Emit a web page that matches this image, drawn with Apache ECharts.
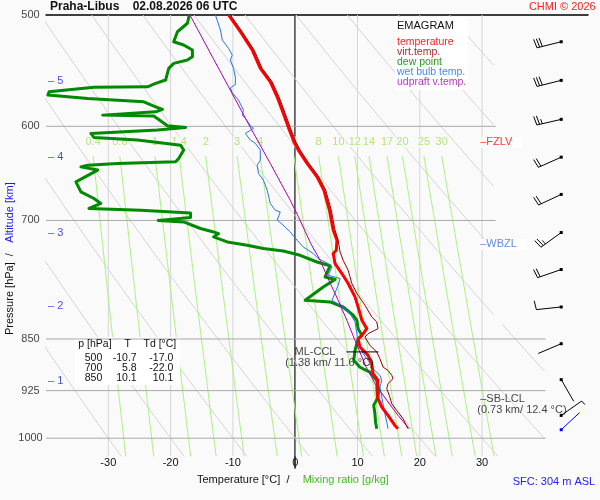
<!DOCTYPE html>
<html>
<head>
<meta charset="utf-8">
<title>Emagram Praha-Libus</title>
<script src="https://cdn.jsdelivr.net/npm/echarts@6/dist/echarts.min.js"></script>
<style>
  html, body { margin: 0; padding: 0; background: #fafafa; }
  #chart { width: 600px; height: 500px; }
</style>
</head>
<body>
<div id="chart"></div>
<script>
// ---- sounding data (p in hPa, T in °C) ----
var station = 'Praha-Libus';
var stamp = '02.08.2026 06 UTC';
var sfcHeight = 304;

var pressureTicks = [500, 600, 700, 850, 925, 1000];
var tempTicks = [-30, -20, -10, 0, 10, 20, 30];
var altitudeKm = [1, 2, 3, 4, 5];
var altitudeP = [910, 805, 714, 631, 557];
var mixingRatios = [0.4, 0.6, 1, 1.4, 2, 3, 4, 6, 8, 10, 12, 14, 17, 20, 25, 30];
var thetaLevels = [-30, -20, -10, 0, 10, 20, 30, 40, 50, 60, 70, 80, 90];

var tempP = [500, 513.9, 529.5, 545.7, 557.8, 571.7, 587.4, 601, 615.4, 623.8, 637.6, 651.8, 666.1, 688.4, 700,
  711.3, 723.1, 735, 739, 751.2, 763.6, 776.2, 793.4, 806.6, 824.4, 835.7, 845, 850, 861.3, 873.1, 885, 899.6,
  909.7, 919.7, 934.9, 950.4, 963.4, 979.3, 984.6];
var tempT = [-10.7, -8.8, -6.9, -5.6, -4.0, -2.9, -1.9, -1.1, -0.2, 0.5, 1.9, 3.5, 4.6, 5.5, 5.8,
  6.1, 6.7, 6.6, 6.1, 6.4, 7.5, 8.5, 9.6, 10.1, 10.7, 11.5, 10.7, 10.1, 10.4, 11.7, 12.3, 12.5,
  13.3, 13.1, 13.2, 13.9, 14.9, 16.0, 16.5];

var virtP = [500, 513.9, 529.5, 545.7, 557.8, 571.7, 587.4, 601, 615.4, 623.8, 637.6, 651.8, 666.1, 688.4, 700,
  711.3, 723.1, 737.1, 747.2, 759.5, 776.2, 789, 804.3, 820, 826.7, 835.7, 842.7, 847.4, 859, 868.4, 877.9,
  890, 894.9, 902.2, 907.1, 914.5, 922, 934.9, 945.1, 955.5, 968.5, 984.6];
var virtT = [-10.4, -8.5, -6.6, -5.3, -3.7, -2.6, -1.6, -0.8, 0.1, 0.8, 2.2, 3.8, 4.9, 5.8, 6.1,
  6.4, 6.9, 7.2, 7.7, 8.5, 9.1, 9.9, 11.2, 12.3, 13.1, 13.3, 11.7, 11.2, 12.0, 13.1, 13.6,
  14.1, 14.9, 15.5, 15.7, 14.9, 14.7, 15.2, 15.5, 16.3, 17.3, 18.1];

var dewP = [500, 506.8, 513.9, 522.4, 525.2, 529.5, 535.4, 538.3, 541.2, 545.7, 556.2, 559.3, 562.4, 562.9, 567,
  570, 573.2, 576.4, 581.1, 583.6, 585.9, 589.1, 590, 599.4, 601.1, 602, 603.7, 607, 611, 613.7, 618.8, 623.8,
  632.4, 635.9, 637.6, 639.4, 641.2, 644.6, 657.2, 668, 675.3, 680.8, 686.4, 688.4, 691.4, 696.6, 700, 701.7,
  709.3, 713.3, 715.2, 719.2, 725.1, 729, 733, 735.9, 741.1, 749.3, 754, 767.9, 771, 780.6, 797.8, 800, 806.6,
  817.6, 824.4, 835.7, 845, 850, 866, 880.3, 890.3, 897.5, 909.7, 921.6, 934.9, 947.6, 960.8, 974.1, 984.6];
var dewT = [-17.0, -17.3, -18.9, -19.5, -17.9, -16.5, -16.5, -17.3, -19.5, -20.3, -20.8, -22.4, -23.7, -32.3, -39.5,
  -39.7, -33.3, -24.3, -22.4, -21.3, -22.4, -30.9, -22.7, -20.5, -17.6, -17.9, -22.1, -32.8, -32.3, -25.3, -18.4, -17.9,
  -18.7, -19.2, -28.5, -33.3, -34.4, -31.7, -35.2, -34.4, -32.3, -31.2, -33.1, -24.8, -16.8, -16.8, -22.0, -17.9,
  -15.2, -13.1, -12.3, -13.1, -10.9, -7.7, -5.1, -1.9, 0.8, 3.5, 5.6, 4.8, 6.4, 4.5, 1.6, 5.6, 7.7,
  9.3, 9.9, 10.1, 10.7, 10.1, 9.6, 9.4, 10.4, 12.0, 13.1, 13.4, 13.3, 12.6, 12.8, 12.9, 13.1];

var wetP = [500, 512.4, 520.9, 528.1, 533.9, 538.3, 545.7, 553.5, 560.3, 563.3, 568, 574.8, 584.3, 589.1, 592.2,
  599.4, 602, 607, 613.7, 617, 623.8, 634.2, 639.4, 648.1, 655.3, 666.1, 680.8, 688.4, 690.4, 699.6, 704.3,
  713.3, 723.1, 731.1, 739, 745.2, 751.3, 755.5, 765.7, 769.9, 778.4, 797.8, 806.6, 815.4, 826.7, 842.7,
  856.6, 870.6, 880.3, 892.5, 902.2, 909.7, 919.7, 934.9, 960.8, 974.1, 984.6];
var wetT = [-12.8, -12.0, -11.7, -10.7, -10.1, -10.4, -9.9, -9.6, -9.6, -10.4, -10.1, -9.1, -8.3, -8.5, -8.0,
  -7.2, -6.7, -8.0, -7.2, -6.4, -5.6, -5.6, -6.1, -5.9, -5.1, -4.5, -4.0, -3.2, -2.4, -2.9, -2.1,
  -0.8, 0.3, 1.3, 2.9, 3.7, 5.3, 5.9, 5.3, 7.2, 6.9, 5.9, 7.7, 8.8, 9.6, 9.9,
  10.1, 10.9, 11.7, 12.5, 13.6, 13.9, 13.6, 13.9, 14.4, 14.7, 14.9];

var parcelP = [500, 535.4, 562.4, 601, 637.6, 677.2, 695.5, 727, 747.2, 772.1, 797.8, 824.4, 851.9, 890.3,
  917.2, 939.9, 963.3, 984.6];
var parcelT = [-16.9, -13.3, -10.7, -7.2, -4.0, -0.8, 0.5, 2.5, 4.0, 5.4, 6.9, 8.3, 9.6, 11.4,
  13.0, 14.7, 16.5, 18.3];

var windP = [522.4, 556.5, 593.2, 631.1, 670.8, 714, 758.6, 806.6, 856.6, 908.5, 963.3, 986.2];
var windDir = [256, 256, 257, 246, 245, 234, 251, 264, 247, 150, 55, 47];
var windKt = [30, 30, 25, 20, 20, 25, 20, 10, 3, 3, 5, 3];

var tableP = [500, 700, 850];
var tableT = [-10.7, 5.8, 10.1];
var tableTd = [-17.0, -22.0, 10.1];

var freezingP = 616;
var wetBulbZeroP = 728;
var sbLcl = { p: 938, km: 0.73, t: 12.4 };
var mlCcl = { p: 868, km: 1.38, t: 11.6 };

var legendNames = ['temperature', 'virt.temp.', 'dew point', 'wet bulb temp.', 'udpraft v.temp.'];

// ---- layout / style ----
var FONT = '"Liberation Sans", Arial, Helvetica, sans-serif';
var BG = '#fafafa';
var T_MIN = -40, T_MAX = 47;
var P_TOP = 500, P_BOT = 1050, P_ISO_BOT = 1030, P_MIX_TOP = 630;
var BARB_T = 42.7;   // column of the wind barbs
var LABEL_T = 29.7;  // column of the level labels
var KAPPA = 0.2857;

function pairs(ps, ts) {
  return ps.map(function (p, i) { return [ts[i], p]; });
}

var series = [];

function refLine(data, color, width, z) {
  series.push({
    type: 'line', data: data, symbol: 'none', silent: true, z: z,
    lineStyle: { color: color, width: width }
  });
}

// isotherms
tempTicks.forEach(function (t) {
  refLine([[t, P_TOP], [t, P_ISO_BOT]], t === 0 ? '#a3a3a3' : '#d6d6d6', 1, 1);
});

// isobars (upper ones stop short, as in the original)
pressureTicks.slice(1).forEach(function (p) {
  refLine([[T_MIN, p], [p < 800 ? 32.2 : 40.2, p]], '#a9a9a9', 1, 3);
});

// dry adiabats, labelled by their temperature at 1000 hPa
thetaLevels.forEach(function (th) {
  var thK = th + 273.15;
  var pAt = function (t) { return 1000 * Math.pow((t + 273.15) / thK, 1 / KAPPA); };
  var tAt = function (p) { return thK * Math.pow(p / 1000, KAPPA) - 273.15; };
  var seg = function (p0, p1) {
    if (p1 <= p0) return;
    var d = [];
    for (var p = p0; p < p1; p += 5) d.push([tAt(p), p]);
    d.push([tAt(p1), p1]);
    refLine(d, '#d3d3d3', 1, 1);
  };
  var pUp = pAt(31.8), pLow = Math.min(P_ISO_BOT, pAt(40));
  if (pUp >= 830) {
    seg(P_TOP, pLow);
  } else {
    seg(P_TOP, pUp);
    seg(830, pLow);
  }
});

// saturation mixing ratio lines
function dewFromMix(w, p) {
  var e = w * p / (622 + w);
  var l = Math.log(e / 6.112);
  return 243.5 * l / (17.67 - l);
}
mixingRatios.forEach(function (w) {
  var d = [];
  for (var p = P_MIX_TOP; p <= P_ISO_BOT; p += 20) d.push([dewFromMix(w, p), p]);
  refLine(d, '#acf283', 1, 1);
});
series.push({
  type: 'scatter', silent: true, clip: false, z: 4, symbolSize: 0,
  data: mixingRatios.map(function (w) { return [dewFromMix(w, P_MIX_TOP), P_MIX_TOP, w]; }),
  label: {
    show: true, position: 'inside', offset: [0, -14],
    formatter: function (o) { return o.value[2]; },
    color: '#a2de5a', fontSize: 11, fontFamily: FONT,
    backgroundColor: BG, padding: [0, 1]
  }
});

// pressure labels and altitude ticks on the left axis
series.push({
  type: 'scatter', silent: true, clip: false, z: 6, symbolSize: 0,
  data: pressureTicks.map(function (p) { return [T_MIN, p]; }),
  label: {
    show: true, position: 'inside', offset: [-15.5, 0], align: 'center',
    formatter: function (o) { return o.value[1]; },
    color: '#111', fontSize: 11, fontFamily: FONT
  }
});
series.push({
  type: 'scatter', silent: true, clip: false, z: 6, symbolSize: 0,
  data: altitudeP.map(function (p, i) { return [T_MIN, p, altitudeKm[i]]; }),
  label: {
    show: true, position: 'inside', offset: [2, 0], align: 'left',
    formatter: function (o) { return '\u2013 ' + o.value[2]; },
    color: '#1a1aee', fontSize: 11, fontFamily: FONT
  }
});

// sounding curves
function profile(name, ps, ts, color, width, z) {
  series.push({
    name: name, type: 'line', data: pairs(ps, ts), symbol: 'none', z: z,
    lineStyle: { color: color, width: width, join: 'round' }
  });
}
profile('dew point', dewP, dewT, '#008a00', 3, 5);
profile('wet bulb temp.', wetP, wetT, '#2a72ea', 1, 5);
profile('udpraft v.temp.', parcelP, parcelT, '#aa00aa', 1, 5);
profile('temperature', tempP, tempT, '#ff0000', 3, 5);
profile('virt.temp.', virtP, virtT, '#990000', 1, 5);

// level annotations
function levelLabel(p, text, color, withBox, off) {
  series.push({
    type: 'scatter', silent: true, clip: false, z: 7, symbolSize: 0,
    data: [[LABEL_T, p]],
    label: {
      show: true, position: 'inside', align: 'left', offset: off || [0, 0],
      formatter: text, color: color, fontSize: 11, fontFamily: FONT, lineHeight: 11,
      backgroundColor: withBox ? '#ffffff' : 'transparent', padding: withBox ? [0, 10, 0, 0] : 0
    }
  });
}
levelLabel(freezingP, '\u2013FZLV', '#ff0000', true);
levelLabel(wetBulbZeroP, '\u2013WBZL', '#3a6fd8', true);
levelLabel(sbLcl.p, '\u2013SB-LCL', '#111', false);
levelLabel(sbLcl.p, '(' + sbLcl.km + ' km/ ' + sbLcl.t + ' \u00b0C)', '#111', false, [-3, 11.3]);

series.push({
  type: 'scatter', silent: true, clip: false, z: 7,
  data: [[mlCcl.t, mlCcl.p]],
  symbol: 'rect', symbolSize: [32, 1.2], symbolOffset: [-5, 0],
  itemStyle: { color: '#000' },
  label: {
    show: true, position: 'inside', align: 'center', offset: [-47.5, 0.5],
    formatter: 'ML-CCL', color: '#111', fontSize: 11, fontFamily: FONT
  }
});
series.push({
  type: 'scatter', silent: true, clip: false, z: 7, symbolSize: 0,
  data: [[mlCcl.t, mlCcl.p]],
  label: {
    show: true, position: 'inside', align: 'center', offset: [-38, 10.7],
    formatter: '(' + mlCcl.km + ' km/ ' + mlCcl.t + ' \u00b0C)',
    color: '#111', fontSize: 11, fontFamily: FONT
  }
});

// wind barbs
series.push({
  type: 'custom', silent: true, z: 7, clip: false,
  data: windP.map(function (p, i) { return [BARB_T, p, windDir[i], windKt[i]]; }),
  renderItem: function (params, api) {
    var pt = api.coord([api.value(0), api.value(1)]);
    var dir = api.value(2) * Math.PI / 180;
    var spd = api.value(3);
    var ux = Math.sin(dir), uy = -Math.cos(dir);
    var nx = -uy, ny = ux;
    var L = 25;
    var ex = pt[0] + ux * L, ey = pt[1] + uy * L;
    var color = params.dataIndex === windP.length - 1 ? '#0000ff' : '#000';
    var kids = [
      { type: 'line', shape: { x1: pt[0], y1: pt[1], x2: ex, y2: ey }, style: { stroke: color, lineWidth: 1 } },
      { type: 'rect', shape: { x: pt[0] - 1.5, y: pt[1] - 1.5, width: 3, height: 3 }, style: { fill: color } }
    ];
    var full = Math.floor(spd / 10);
    var half = Math.floor((spd - full * 10) / 5);
    var k = 0;
    function feather(len, tilt) {
      var bx = ex - ux * k * 2.8, by = ey - uy * k * 2.8;
      kids.push({
        type: 'line',
        shape: { x1: bx, y1: by, x2: bx + nx * len + ux * tilt, y2: by + ny * len + uy * tilt },
        style: { stroke: color, lineWidth: 1 }
      });
      k++;
    }
    for (var i = 0; i < full; i++) feather(9, 1.2);
    if (half) feather(4.8, 0.6);
    return { type: 'group', children: kids };
  }
});

function txt(x, y, text, color, size, align, extra) {
  var el = {
    type: 'text', x: x, y: y, z: 20,
    style: {
      text: text, fill: color, font: (extra && extra.weight ? extra.weight + ' ' : '') + size + 'px ' + FONT,
      textAlign: align, align: align, textVerticalAlign: 'middle', verticalAlign: 'middle'
    }
  };
  if (extra && extra.rotation) el.rotation = extra.rotation;
  return el;
}

var legendColors = ['#ff2020', '#a52a2a', '#22a022', '#4a86ee', '#b437c8'];
var graphics = [
  { type: 'rect', z: 2, shape: { x: 395, y: 17, width: 73, height: 73 }, style: { fill: '#ffffff' } },
  txt(397, 25.7, 'EMAGRAM', '#111', 11, 'left'),
  { type: 'rect', z: 2, shape: { x: 75, y: 337, width: 105, height: 48 }, style: { fill: '#ffffff' } },
  txt(78.3, 343.7, 'p [hPa]', '#111', 10.5, 'left'),
  txt(127.7, 343.7, 'T', '#111', 10.5, 'center'),
  txt(143.5, 343.7, 'Td [\u00b0C]', '#111', 10.5, 'left'),
  txt(10, 335, 'Pressure [hPa]  /', '#111', 11, 'left', { rotation: Math.PI / 2 }),
  txt(10, 242.7, 'Altitude [km]', '#1a1aee', 11, 'left', { rotation: Math.PI / 2 }),
  txt(197, 479.5, 'Temperature [\u00b0C]  /', '#111', 11, 'left'),
  txt(302.7, 479.5, 'Mixing ratio [g/kg]', '#44bb22', 11, 'left'),
  txt(512.7, 481.7, 'SFC: ' + sfcHeight + ' m ASL', '#2222ee', 11, 'left'),
  txt(595.7, 6.7, 'CHMI \u00a9 2026', '#ff2020', 11, 'right')
];
legendNames.forEach(function (n, i) {
  graphics.push(txt(397, 42.3 + i * 9.85, n, legendColors[i], 10.5, 'left'));
});
tableP.forEach(function (p, i) {
  var y = 358.3 + i * 10;
  graphics.push(txt(102.3, y, String(p), '#111', 10.5, 'right'));
  graphics.push(txt(136.7, y, tableT[i].toFixed(1), '#111', 10.5, 'right'));
  graphics.push(txt(173.3, y, tableTd[i].toFixed(1), '#111', 10.5, 'right'));
});

var chart = echarts.init(document.getElementById('chart'), null, { renderer: 'canvas' });
chart.setOption({
  animation: false,
  backgroundColor: BG,
  title: {
    text: station + '    ' + stamp,
    left: 50, top: 0, padding: [1, 0, 0, 0],
    textStyle: { fontSize: 12, fontWeight: 'bold', color: '#111', fontFamily: FONT }
  },
  grid: { left: 46, right: 12, top: 15, bottom: 32, containLabel: false, outerBoundsMode: 'none' },
  xAxis: [{
    type: 'value', min: T_MIN, max: T_MAX, interval: 10,
    axisLine: { show: false }, axisTick: { show: false }, splitLine: { show: false },
    axisLabel: {
      inside: true, margin: 0, fontSize: 11, color: '#111', fontFamily: FONT,
      formatter: function (v) { return (v >= -30 && v <= 30) ? String(v) : ''; }
    }
  }, {
    type: 'value', position: 'top', min: T_MIN, max: T_MAX,
    axisLine: { show: true, lineStyle: { color: '#000', width: 1.5 } },
    axisTick: { show: false }, axisLabel: { show: false }, splitLine: { show: false }
  }],
  yAxis: {
    type: 'log', logBase: 10, min: P_TOP, max: P_BOT, inverse: true,
    axisLine: { show: true, lineStyle: { color: '#000', width: 1.5 } },
    axisTick: { show: false }, axisLabel: { show: false }, splitLine: { show: false }, minorTick: { show: false }
  },
  graphic: graphics,
  series: series
});
</script>
</body>
</html>
